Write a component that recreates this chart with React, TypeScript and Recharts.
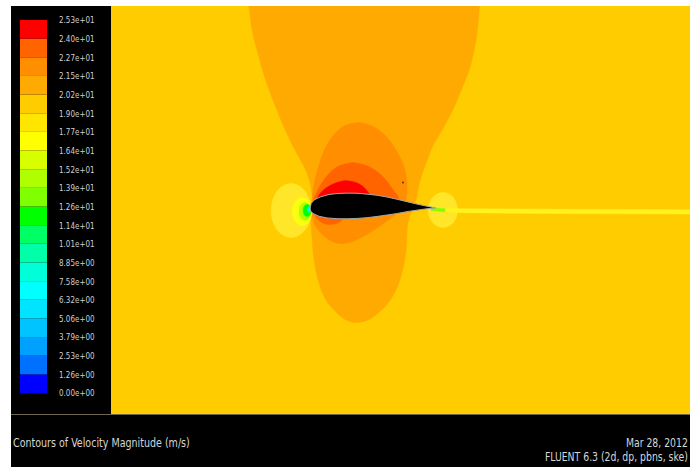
import React from 'react';
import {
  Bar,
  BarChart,
  ComposedChart,
  ReferenceArea,
  Scatter,
  XAxis,
  YAxis,
} from 'recharts';

type Pair = [number, number];

const NARROW = "'Liberation Sans Narrow', 'DejaVu Sans Condensed', 'Arial Narrow', sans-serif";

// contour levels, low to high (m/s)
const levelLabels = [
  '0.00e+00', '1.26e+00', '2.53e+00', '3.79e+00', '5.06e+00', '6.32e+00', '7.58e+00',
  '8.85e+00', '1.01e+01', '1.14e+01', '1.26e+01', '1.39e+01', '1.52e+01', '1.64e+01',
  '1.77e+01', '1.90e+01', '2.02e+01', '2.15e+01', '2.27e+01', '2.40e+01', '2.53e+01',
];
const levelColors = [
  '#0000FF', '#0070FF', '#00A0FF', '#00C4FF', '#00E4FF', '#00FFFF', '#00FFD8',
  '#00FFA8', '#00FF64', '#00FF00', '#80FF00', '#B0FF00', '#D8FF00', '#FFFF00',
  '#FFE600', '#FFCC00', '#FFAA00', '#FF8E00', '#FF6400', '#FF0000',
];

// domain in chord lengths, leading edge at origin
const X_DOMAIN: Pair = [-1.59, 3.01];
const Y_DOMAIN: Pair = [-1.64, 1.6];
const FREESTREAM_LEVEL = 15;

// 2.02e+01 - 2.15e+01 : funnel above the foil + lobe below it
const funnelBand: Pair[] = [
  [-0.5, 1.65], [-0.468, 1.405], [-0.429, 1.246], [-0.373, 1.048], [-0.302, 0.849],
  [-0.238, 0.69], [-0.167, 0.532], [-0.095, 0.397], [-0.032, 0.27], [0.0, 0.151],
  [0.008, 0.056], [0.0, -0.04], [0.0, -0.143], [0.008, -0.262], [0.024, -0.421],
  [0.056, -0.579], [0.111, -0.722], [0.183, -0.817], [0.27, -0.889], [0.365, -0.913],
  [0.46, -0.889], [0.548, -0.825], [0.627, -0.738], [0.69, -0.619], [0.73, -0.484],
  [0.754, -0.341], [0.762, -0.198], [0.778, -0.087], [0.817, 0.016], [0.841, 0.095],
  [0.865, 0.214], [0.921, 0.373], [0.968, 0.492], [1.024, 0.587], [1.103, 0.73],
  [1.159, 0.849], [1.214, 0.984], [1.262, 1.111], [1.302, 1.286], [1.325, 1.444],
  [1.341, 1.65],
];

// 2.15e+01 - 2.27e+01
const outerSuctionBand: Pair[] = [
  [0.389, 0.675], [0.508, 0.635], [0.611, 0.548], [0.69, 0.429], [0.746, 0.294],
  [0.762, 0.159], [0.754, 0.056], [0.706, -0.024], [0.587, -0.119], [0.468, -0.198],
  [0.349, -0.262], [0.23, -0.286], [0.127, -0.246], [0.048, -0.167], [0.008, -0.063],
  [0.008, 0.056], [0.024, 0.19], [0.056, 0.317], [0.103, 0.452], [0.175, 0.571],
  [0.27, 0.651],
];

// 2.27e+01 - 2.40e+01
const innerSuctionBand: Pair[] = [
  [0.333, 0.357], [0.437, 0.333], [0.532, 0.278], [0.611, 0.198], [0.667, 0.119],
  [0.69, 0.056], [0.548, -0.008], [0.31, -0.063], [0.23, -0.111], [0.151, -0.135],
  [0.071, -0.111], [0.024, -0.048], [0.016, 0.032], [0.04, 0.111], [0.087, 0.198],
  [0.151, 0.278], [0.23, 0.333],
];

// 2.40e+01 - 2.53e+01
const peakBand: Pair[] = [
  [0.27, 0.214], [0.357, 0.198], [0.421, 0.159], [0.46, 0.111], [0.429, 0.056],
  [0.151, 0.016], [0.04, 0.024], [0.056, 0.087], [0.103, 0.143], [0.183, 0.19],
];

// stagnation region ahead of the leading edge
const stagnationOuter: Pair[] = [
  [0.0, -0.024], [-0.021, 0.083], [-0.08, 0.161], [-0.159, 0.19], [-0.239, 0.161],
  [-0.297, 0.083], [-0.318, -0.024], [-0.297, -0.131], [-0.239, -0.209], [-0.159, -0.238],
  [-0.08, -0.209], [-0.021, -0.131],
];
const stagnationMid: Pair[] = [
  [0.008, -0.032], [-0.015, 0.046], [-0.071, 0.079], [-0.127, 0.046],
  [-0.15, -0.032], [-0.127, -0.11], [-0.071, -0.143], [-0.015, -0.11],
];
const stagnationInner: Pair[] = [
  [0.0, -0.032], [-0.014, 0.018], [-0.048, 0.039], [-0.082, 0.018],
  [-0.095, -0.032], [-0.082, -0.082], [-0.048, -0.103], [-0.014, -0.082],
];
const stagnationCore: Pair[] = [
  [0.0, -0.024], [-0.009, 0.01], [-0.032, 0.024], [-0.055, 0.01],
  [-0.063, -0.024], [-0.055, -0.058], [-0.032, -0.071], [-0.009, -0.058],
];
const stagnationPoint: Pair[] = [
  [0.0, -0.016], [-0.016, 0.008], [-0.032, -0.016], [-0.016, -0.04],
];

// trailing edge bubble and wake
const trailingBubble: Pair[] = [
  [1.167, -0.02], [1.132, 0.078], [1.048, 0.119], [0.964, 0.078],
  [0.929, -0.02], [0.964, -0.118], [1.048, -0.159], [1.132, -0.118],
];
const wakeBand: Pair[] = [
  [0.984, -0.008], [1.183, -0.01], [1.976, -0.014], [3.05, -0.018],
  [3.05, -0.052], [1.976, -0.048], [1.183, -0.042], [0.984, -0.024],
];
const wakeCore: Pair[] = [
  [0.952, -0.004], [1.063, -0.01], [1.063, -0.034], [0.952, -0.024],
];

const airfoil: Pair[] = [
  [-0.008, -0.004], [0.0, 0.032], [0.024, 0.06], [0.071, 0.083], [0.135, 0.102],
  [0.206, 0.111], [0.286, 0.114], [0.365, 0.113], [0.444, 0.106], [0.524, 0.097],
  [0.603, 0.083], [0.683, 0.065], [0.762, 0.046], [0.841, 0.027], [0.921, 0.01],
  [0.992, -0.004], [0.921, -0.01], [0.841, -0.021], [0.762, -0.033], [0.683, -0.048],
  [0.603, -0.06], [0.524, -0.071], [0.444, -0.081], [0.365, -0.087], [0.286, -0.09],
  [0.206, -0.089], [0.127, -0.083], [0.063, -0.07], [0.016, -0.048], [-0.004, -0.028],
];

const speck: Pair[] = [[0.73, 0.198]];

type Region = { id: string; points: Pair[]; color: string; curve: 'natural' | 'linearClosed'; closed: boolean };

const regions: Region[] = [
  { id: 'funnel', points: funnelBand, color: levelColors[16], curve: 'natural', closed: false },
  { id: 'outer', points: outerSuctionBand, color: levelColors[17], curve: 'natural', closed: true },
  { id: 'inner', points: innerSuctionBand, color: levelColors[18], curve: 'natural', closed: true },
  { id: 'peak', points: peakBand, color: levelColors[19], curve: 'natural', closed: true },
  { id: 'stag1', points: stagnationOuter, color: '#FFE628', curve: 'natural', closed: true },
  { id: 'stag2', points: stagnationMid, color: '#FAFF10', curve: 'natural', closed: true },
  { id: 'stag3', points: stagnationInner, color: levelColors[11], curve: 'natural', closed: true },
  { id: 'stag4', points: stagnationCore, color: levelColors[9], curve: 'natural', closed: true },
  { id: 'stag5', points: stagnationPoint, color: levelColors[6], curve: 'natural', closed: true },
  { id: 'te', points: trailingBubble, color: '#FFE628', curve: 'natural', closed: true },
  { id: 'wake', points: wakeBand, color: '#FFF21E', curve: 'linearClosed', closed: false },
  { id: 'wakecore', points: wakeCore, color: levelColors[10], curve: 'linearClosed', closed: false },
];

const toPoints = (pts: Pair[], closed: boolean) => {
  const out = pts.map(([x, y]) => ({ x, y }));
  if (closed) out.push({ x: pts[0][0], y: pts[0][1] });
  return out;
};

const noMarker = () => <g />;

function ContourPlot() {
  return (
    <ComposedChart width={579} height={408} margin={{ top: 0, right: 0, bottom: 0, left: 0 }}>
      <XAxis type="number" dataKey="x" domain={X_DOMAIN} hide allowDataOverflow />
      <YAxis type="number" dataKey="y" domain={Y_DOMAIN} hide allowDataOverflow />
      <ReferenceArea
        x1={X_DOMAIN[0]}
        x2={X_DOMAIN[1]}
        y1={Y_DOMAIN[0]}
        y2={Y_DOMAIN[1]}
        fill={levelColors[FREESTREAM_LEVEL]}
        fillOpacity={1}
        stroke="none"
      />
      {regions.map((r) => (
        <Scatter
          key={r.id}
          data={toPoints(r.points, r.closed)}
          fill={r.color}
          line={{ fill: r.color, stroke: r.color, strokeWidth: 0.5 }}
          lineType="joint"
          lineJointType={r.curve}
          shape={noMarker}
          legendType="none"
          isAnimationActive={false}
        />
      ))}
      <Scatter
        data={toPoints(airfoil, false)}
        fill="#000"
        line={{ fill: '#000', stroke: '#a8a8a8', strokeWidth: 1 }}
        lineType="joint"
        lineJointType="linearClosed"
        shape={noMarker}
        legendType="none"
        isAnimationActive={false}
      />
      <Scatter
        data={toPoints(speck, false)}
        fill="#3a3a3a"
        shape={(p: { cx?: number; cy?: number }) => <circle cx={p.cx} cy={p.cy} r={1} fill="#3a3a3a" />}
        legendType="none"
        isAnimationActive={false}
      />
    </ComposedChart>
  );
}

const colorBarRow = [Object.fromEntries(levelColors.map((_, i) => [`b${i}`, 1]))];

// narrow tick labels like the Fluent colormap
function LevelTick(props: { x?: number; y?: number; payload?: { value: number } }) {
  const { x = 0, y = 0, payload } = props;
  return (
    <text
      transform={`translate(${x},${y}) scale(0.84,1)`}
      dy="0.36em"
      fill="#cfcfcf"
      fontSize={9.5}
      fontFamily={NARROW}
      textAnchor="start"
    >
      {levelLabels[payload?.value ?? 0]}
    </text>
  );
}

function ColorBar() {
  return (
    <BarChart
      width={100}
      height={408}
      data={colorBarRow}
      margin={{ top: 14, right: 0, bottom: 21, left: 9 }}
      barCategoryGap={0}
      barGap={0}
    >
      <XAxis type="category" hide />
      <YAxis
        type="number"
        orientation="right"
        domain={[0, 20]}
        ticks={levelLabels.map((_, i) => i)}
        interval={0}
        width={64}
        axisLine={false}
        tickLine={false}
        tickSize={0}
        tickMargin={12}
        tick={LevelTick}
      />
      {levelColors.map((c, i) => (
        <Bar key={i} dataKey={`b${i}`} stackId="bar" fill={c} isAnimationActive={false} />
      ))}
    </BarChart>
  );
}

const footText = {
  position: 'absolute' as const,
  color: '#d6d6d6',
  fontFamily: NARROW,
  fontSize: 11.5,
  lineHeight: '14px',
  whiteSpace: 'nowrap' as const,
};

export default function App() {
  return (
    <div style={{ position: 'fixed', left: 0, top: 0, width: 690, height: 467, background: '#fff', overflow: 'hidden' }}>
      <div style={{ position: 'absolute', left: 11, top: 6, width: 679, height: 461, background: '#000' }} />
      <div style={{ position: 'absolute', left: 11, top: 6 }}>
        <ColorBar />
      </div>
      <div style={{ position: 'absolute', left: 111, top: 6 }}>
        <ContourPlot />
      </div>
      <div style={{ position: 'absolute', left: 11, top: 414, width: 679, height: 1, background: '#6b6750' }} />
      <div style={{ ...footText, left: 13, top: 436, transform: 'scaleX(0.92)', transformOrigin: 'left' }}>
        Contours of Velocity Magnitude (m/s)
      </div>
      <div style={{ ...footText, right: 2, top: 436, transform: 'scaleX(0.9)', transformOrigin: 'right' }}>
        Mar 28, 2012
      </div>
      <div style={{ ...footText, right: 2, top: 450, transform: 'scaleX(0.9)', transformOrigin: 'right' }}>
        FLUENT 6.3 (2d, dp, pbns, ske)
      </div>
    </div>
  );
}
